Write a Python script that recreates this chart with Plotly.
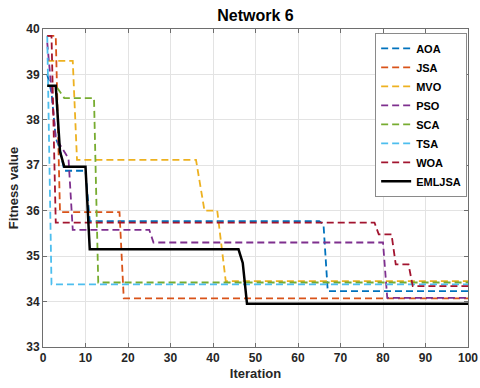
import plotly.graph_objects as go

# Breakpoints (iteration, fitness)
aoa_x = [1, 2, 3, 4, 5, 10, 11, 65, 66, 67, 100]
aoa_y = [39.0, 38.6, 37.6, 37.35, 36.88, 36.88, 35.77, 35.77, 35.70, 34.23, 34.23]

jsa_x = [1, 3, 4, 18, 19, 100]
jsa_y = [39.85, 39.85, 35.97, 35.97, 34.07, 34.07]

mvo_x = [1, 7, 8, 36, 38, 41, 43, 100]
mvo_y = [39.3, 39.3, 37.12, 37.12, 36.0, 36.0, 34.45, 34.45]

pso_x = [1, 2, 3, 4, 5, 6, 7, 25, 26, 80, 81, 100]
pso_y = [39.7, 38.6, 37.6, 37.45, 37.3, 37.15, 35.58, 35.58, 35.3, 35.3, 34.08, 34.08]

sca_x = [1, 3, 5, 12, 13, 100]
sca_y = [38.75, 38.75, 38.48, 38.48, 34.42, 34.42]

tsa_x = [1, 2, 100]
tsa_y = [39.85, 34.38, 34.38]

woa_x = [1, 2, 3, 78, 79, 82, 83, 86, 87, 100]
woa_y = [39.85, 39.85, 35.74, 35.74, 35.48, 35.48, 34.82, 34.82, 34.34, 34.34]

eml_x = [1, 3, 4, 5, 10, 11, 46, 47, 48, 100]
eml_y = [38.75, 38.75, 37.3, 36.97, 36.97, 35.15, 35.15, 34.85, 33.95, 33.95]

series = [
    ("AOA", aoa_x, aoa_y, "#0072BD", "7px,4px", 1.8),
    ("JSA", jsa_x, jsa_y, "#D95319", "7px,4px", 1.8),
    ("MVO", mvo_x, mvo_y, "#EDB120", "7px,4px", 1.8),
    ("PSO", pso_x, pso_y, "#7E2F8E", "7px,4px", 1.8),
    ("SCA", sca_x, sca_y, "#77AC30", "7px,4px", 1.8),
    ("TSA", tsa_x, tsa_y, "#4DBEEE", "7px,4px", 1.8),
    ("WOA", woa_x, woa_y, "#A2142F", "7px,4px", 1.8),
    ("EMLJSA", eml_x, eml_y, "#000000", "solid", 2.5),
]

x_ticks = list(range(0, 101, 10))
y_ticks = [33, 34, 35, 36, 37, 38, 39, 40]

fig = go.Figure()
for name, xs, ys, col, dash, w in series:
    fig.add_trace(go.Scatter(x=xs, y=ys, mode="lines", name=name,
                             line=dict(color=col, dash=dash, width=w)))

font_family = "Liberation Sans, Arial, sans-serif"
axis_common = dict(
    automargin=True,
    showgrid=True, gridcolor="#e3e3e3", gridwidth=1,
    showline=True, linecolor="#6e6e6e", linewidth=1, mirror="ticks",
    ticks="inside", ticklen=4, tickcolor="#6e6e6e",
    tickfont=dict(family=font_family, size=12, color="#262626", weight="bold"),
    zeroline=False,
)

fig.update_layout(
    template="none",
    width=480, height=388,
    margin=dict(l=43, r=12, t=29, b=41, autoexpand=False),
    paper_bgcolor="white", plot_bgcolor="white",
    title=dict(text="Network 6", x=0.5, xref="paper", y=1 - 15 / 388, yref="container",
               yanchor="middle", automargin=False,
               font=dict(family=font_family, size=16, color="#000000", weight="bold")),
    xaxis=dict(range=[0, 100], tickvals=x_ticks,
               title=dict(text="Iteration", standoff=4,
                          font=dict(family=font_family, size=13, color="#262626", weight="bold")),
               **axis_common),
    yaxis=dict(range=[33, 40], tickvals=y_ticks,
               title=dict(text="Fitness value", standoff=4,
                          font=dict(family=font_family, size=13, color="#262626", weight="bold")),
               **axis_common),
    legend=dict(x=0.998, xanchor="right", y=0.988, yanchor="top",
                bgcolor="white", bordercolor="#8a8a8a", borderwidth=1,
                itemwidth=30, tracegroupgap=0,
                font=dict(family=font_family, size=11, color="#000000", weight="bold")),
    showlegend=True,
)

fig.write_html("out.html")
